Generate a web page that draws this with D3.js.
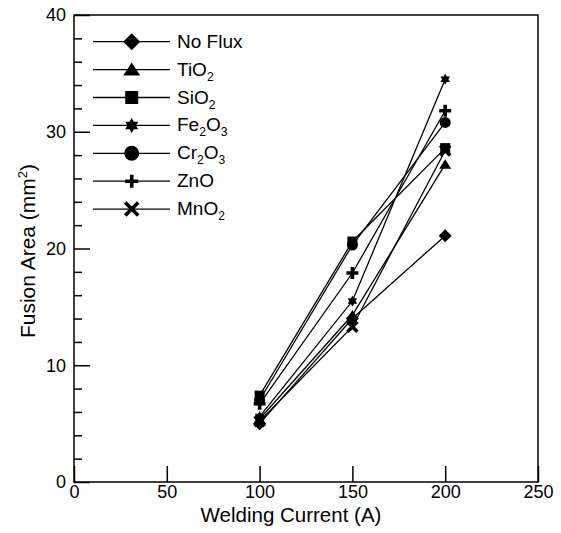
<!DOCTYPE html>
<html>
<head>
<meta charset="utf-8">
<script src="https://cdn.jsdelivr.net/npm/d3@7"></script>
<style>
  body { margin: 0; background: #fff; }
  svg { display: block; font-family: "Liberation Sans", Arial, sans-serif; }
</style>
</head>
<body>
<svg id="chart" width="561" height="533"></svg>
<script>
const currents = [100, 150, 200];
const seriesNames = ["No Flux", "TiO2", "SiO2", "Fe2O3", "Cr2O3", "ZnO", "MnO2"];
const seriesShapes = ["diamond", "triangle", "square", "hexagram", "circle", "plus", "cross"];
const noFlux = [5.0, 14.0, 21.1];
const tio2 = [5.4, 14.3, 27.2];
const sio2 = [7.4, 20.6, 28.6];
const fe2o3 = [5.6, 15.5, 34.5];
const cr2o3 = [7.0, 20.3, 30.8];
const zno = [6.7, 17.9, 31.8];
const mno2 = [5.2, 13.3, 28.4];
const seriesValues = [noFlux, tio2, sio2, fe2o3, cr2o3, zno, mno2];
const xTicks = [0, 50, 100, 150, 200, 250];
const yTicks = [0, 10, 20, 30, 40];
const yMinorTicks = [2, 4, 6, 8, 12, 14, 16, 18, 22, 24, 26, 28, 32, 34, 36, 38];

const svg = d3.select("#chart");
const mLeft = 74, mRight = 538, mTop = 15, mBottom = 482;

const x = d3.scaleLinear().domain([0, 250]).range([mLeft, mRight]);
const y = d3.scaleLinear().domain([0, 40]).range([mBottom, mTop]);

// marker shapes, r = half size
function symbolPath(shape, r) {
  switch (shape) {
    case "diamond":
      return `M0,${-r}L${r},0L0,${r}L${-r},0Z`;
    case "triangle":
      return `M0,${-r * 0.85}L${r},${r * 0.7}L${-r},${r * 0.7}Z`;
    case "square":
      return `M${-r},${-r}H${r}V${r}H${-r}Z`;
    case "circle":
      return `M${r},0A${r},${r} 0 1,1 ${-r},0A${r},${r} 0 1,1 ${r},0Z`;
    case "hexagram": {
      const a = r * 0.866, b = r * 0.5;
      return `M0,${-r}L${a},${b}L${-a},${b}Z M0,${r}L${-a},${-b}L${a},${-b}Z`;
    }
    case "plus":
      return `M0,${-r}V${r}M${-r},0H${r}`;
    case "cross":
      return `M${-r},${-r}L${r},${r}M${r},${-r}L${-r},${r}`;
  }
}

function drawMarker(g, shape, cx, cy, r) {
  const stroked = shape === "plus" || shape === "cross";
  g.append("path")
    .attr("transform", `translate(${cx},${cy})`)
    .attr("d", symbolPath(shape, r))
    .attr("fill", stroked ? "none" : "#000")
    .attr("fill-rule", "nonzero")
    .attr("stroke", stroked ? "#000" : "none")
    .attr("stroke-width", stroked ? 3.6 : 0);
}

const chartSizes = { diamond: 6.5, triangle: 6, square: 5, circle: 5.5, hexagram: 5.5, plus: 6, cross: 5 };
const legendSizes = { diamond: 8.5, triangle: 8.5, square: 6.5, circle: 7.5, hexagram: 7.5, plus: 6.5, cross: 6.5 };

// axes
const xAxis = d3.axisBottom(x).tickValues(xTicks).tickSize(-16).tickPadding(3);
const yAxis = d3.axisLeft(y).tickValues(yTicks).tickSize(-16).tickPadding(8);
const yMinor = d3.axisLeft(y).tickValues(yMinorTicks).tickSize(-8).tickFormat("");

const gx = svg.append("g").attr("transform", `translate(0,${mBottom})`).call(xAxis);
const gy = svg.append("g").attr("transform", `translate(${mLeft},0)`).call(yAxis);
const gym = svg.append("g").attr("transform", `translate(${mLeft},0)`).call(yMinor);

[gx, gy, gym].forEach((g) => {
  g.select(".domain").remove();
  g.selectAll(".tick line").attr("stroke", "#000").attr("stroke-width", 1.5);
  g.selectAll(".tick text").attr("fill", "#000").attr("font-size", 18)
    .attr("font-family", "Liberation Sans, Arial, sans-serif");
});

svg.append("rect")
  .attr("x", mLeft).attr("y", mTop)
  .attr("width", mRight - mLeft).attr("height", mBottom - mTop)
  .attr("fill", "none").attr("stroke", "#000").attr("stroke-width", 1.5);

// axis titles
svg.append("text")
  .attr("x", 291).attr("y", 522)
  .attr("text-anchor", "middle").attr("font-size", 20.5)
  .text("Welding Current (A)");

const yt = svg.append("text")
  .attr("transform", "translate(35,251) rotate(-90)")
  .attr("text-anchor", "middle").attr("font-size", 21);
yt.append("tspan").text("Fusion Area (mm");
yt.append("tspan").attr("font-size", 13).attr("dy", -8).text("2");
yt.append("tspan").attr("dy", 8).text(")");

// series lines
const line = d3.line().x((d, i) => x(currents[i])).y((d) => y(d));
const plot = svg.append("g");
seriesValues.forEach((vals) => {
  plot.append("path")
    .attr("d", line(vals))
    .attr("fill", "none").attr("stroke", "#000").attr("stroke-width", 1.3);
});
seriesValues.forEach((vals, s) => {
  vals.forEach((v, i) => {
    drawMarker(plot, seriesShapes[s], x(currents[i]), y(v), chartSizes[seriesShapes[s]]);
  });
});

// legend
const legend = svg.append("g");
seriesNames.forEach((name, i) => {
  const cy = 41.7 + i * 27.9;
  legend.append("line")
    .attr("x1", 93).attr("x2", 170).attr("y1", cy).attr("y2", cy)
    .attr("stroke", "#000").attr("stroke-width", 1.3);
  drawMarker(legend, seriesShapes[i], 131.7, cy, legendSizes[seriesShapes[i]]);
  const t = legend.append("text").attr("x", 177).attr("y", cy + 6).attr("font-size", 19);
  let prevSub = false;
  name.split(/(\d)/).filter((p) => p !== "").forEach((p) => {
    if (/\d/.test(p)) {
      t.append("tspan").attr("font-size", 12).attr("dy", 5).text(p);
      prevSub = true;
    } else {
      t.append("tspan").attr("dy", prevSub ? -5 : 0).text(p);
      prevSub = false;
    }
  });
});
</script>
</body>
</html>
